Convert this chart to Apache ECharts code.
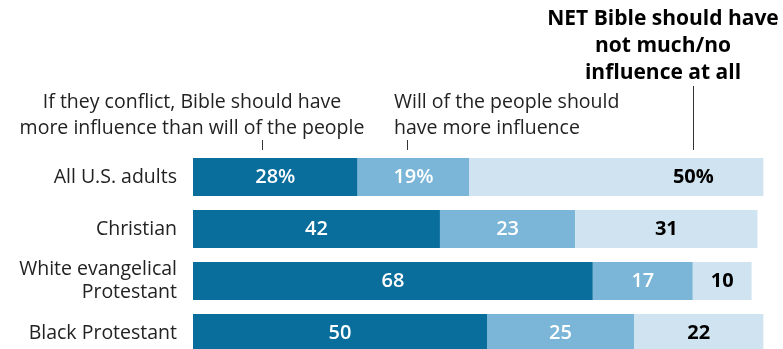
<!DOCTYPE html>
<html>
<head>
<meta charset="utf-8">
<script src="https://cdn.jsdelivr.net/npm/echarts@6/dist/echarts.min.js"></script>
<style>
  html, body { margin: 0; padding: 0; background: #fff; }
  #chart { width: 783px; height: 349px; }
</style>
</head>
<body>
<div id="chart"></div>
<script>
// Groups, top to bottom
const categories = ['All U.S. adults', 'Christian', 'White evangelical\nProtestant', 'Black Protestant'];

// Shares (%) for each response
const bibleMore = [28, 42, 68, 50];
const peopleMore = [19, 23, 17, 25];
const netNotMuch = [50, 31, 10, 22];

const FONT = '"Open Sans", Roboto, sans-serif';
const C_DARK = '#0a6e9c';
const C_MID = '#7bb5d7';
const C_LIGHT = '#d0e3f0';

function fmt(p) {
  return p.dataIndex === 0 ? p.value + '%' : String(p.value);
}

const chart = echarts.init(document.getElementById('chart'));

function series(name, values, color, labelColor, weight, extra) {
  return {
    name: name,
    type: 'bar',
    stack: 'total',
    barWidth: 38,
    data: values.map((v, i) => {
      const d = { value: v };
      if (extra && extra[i]) d.label = extra[i];
      return d;
    }),
    itemStyle: { color: color },
    label: {
      show: true,
      position: 'inside',
      formatter: fmt,
      color: labelColor,
      fontFamily: FONT,
      fontSize: 20,
      fontWeight: weight
    },
    emphasis: { disabled: true },
    animation: false
  };
}

chart.setOption({
  animation: false,
  grid: { left: 193, top: 177, width: 588, height: 156, containLabel: false },
  xAxis: {
    type: 'value', min: 0, max: 100,
    show: false
  },
  yAxis: {
    type: 'category',
    data: categories,
    inverse: true,
    boundaryGap: false,
    axisLine: { show: false },
    axisTick: { show: false },
    splitLine: { show: false },
    axisLabel: {
      margin: 16,
      color: '#222',
      fontFamily: FONT,
      fontSize: 19.5,
      lineHeight: 23,
      align: 'right'
    }
  },
  series: [
    series('Bible more', bibleMore, C_DARK, '#fff', 600),
    series('People more', peopleMore, C_MID, '#fff', 600),
    series('NET not much/no', netNotMuch, C_LIGHT, '#000', 'bold', { 0: { offset: [77, 0] } })
  ],
  graphic: [
    {
      type: 'text',
      style: {
        x: 663, y: 6,
        text: 'NET Bible should have\nnot much/no\ninfluence at all',
        align: 'center',
        verticalAlign: 'top',
        fill: '#000',
        font: 'bold 21px ' + FONT,
        lineHeight: 27
      }
    },
    {
      type: 'text',
      style: {
        x: 192, y: 89,
        text: 'If they conflict, Bible should have\nmore influence than will of the people',
        align: 'center',
        verticalAlign: 'top',
        fill: '#222',
        font: '19.5px ' + FONT,
        lineHeight: 26
      }
    },
    {
      type: 'text',
      style: {
        x: 394, y: 89,
        text: 'Will of the people should\nhave more influence',
        align: 'left',
        verticalAlign: 'top',
        fill: '#222',
        font: '19.5px ' + FONT,
        lineHeight: 26
      }
    },
    { type: 'line', shape: { x1: 262.5, y1: 140, x2: 262.5, y2: 150 }, style: { stroke: '#333', lineWidth: 1 } },
    { type: 'line', shape: { x1: 407.5, y1: 140, x2: 407.5, y2: 150 }, style: { stroke: '#333', lineWidth: 1 } },
    { type: 'line', shape: { x1: 693.5, y1: 86, x2: 693.5, y2: 150 }, style: { stroke: '#333', lineWidth: 1 } }
  ]
});
</script>
</body>
</html>
